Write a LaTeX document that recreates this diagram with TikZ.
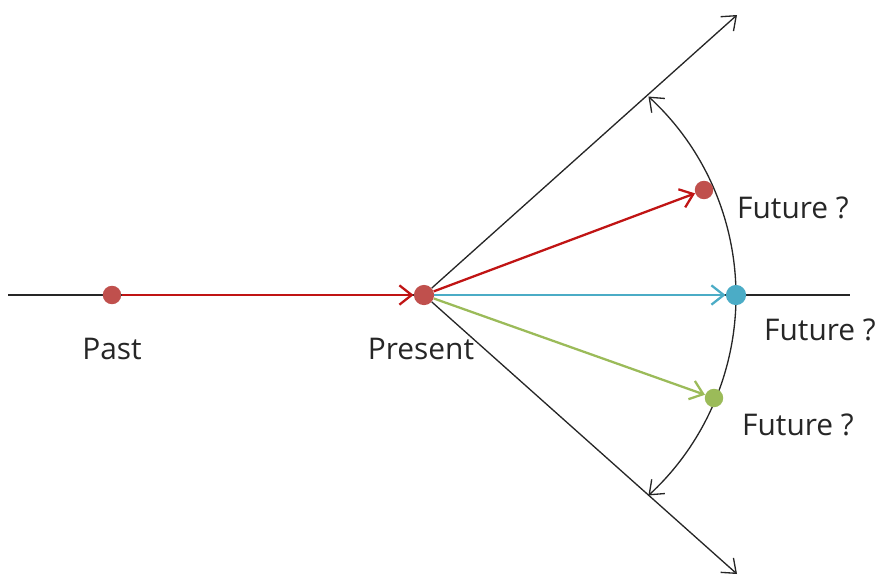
\documentclass[tikz,border=0pt]{standalone}
\usepackage{fontspec}
\setmainfont{Open Sans}
\usetikzlibrary{arrows.meta}

\definecolor{dotred}{RGB}{192,80,77}
\definecolor{linered}{RGB}{192,20,20}
\definecolor{dotblue}{RGB}{75,172,198}
\definecolor{dotgreen}{RGB}{155,187,89}

\tikzset{
  dot/.style={circle, inner sep=0pt, minimum size=#1},
  dot/.default=10.5pt,
  timeline/.style={line width=0.75pt, black!85},
  ray/.style={line width=0.75pt, black!85, -{Straight Barb[length=7pt,width=11pt]}},
  path/.style={line width=1.3pt, -{Straight Barb[length=7pt,width=11pt]}},
  lbl/.style={font=\fontsize{17}{20}\selectfont, text=black!85}
}

\begin{document}
\begin{tikzpicture}[x=0.02cm, y=-0.02cm]
        \useasboundingbox (0,0) rectangle (882,576);
        % \draw[help lines, gray!30] (0,0) grid[step=50] (882,576);

        % main time line
        \draw[timeline] (8,295) -- (850,295);

        \node[dot, fill=dotred] (past) at (112,295) {};
        \node[dot=11.5pt, fill=dotred] (present) at (424,295) {};
        \node[lbl] (pastlbl) at (112,349) {Past};
        \node[lbl] (presentlbl) at (421,349) {Present};

        % cone of futures
        \coordinate (uptip) at (737,15);
        \coordinate (lowtip) at (737,574);
        \draw[ray] (present) -- (uptip);
        \draw[ray] (present) -- (lowtip);
        \draw[timeline, {Straight Barb[length=7pt,width=11pt]}-{Straight Barb[length=7pt,width=11pt]}]
          (465,296) ++(-47.4:271) arc (-47.4:47.4:271);

        \node[dot, fill=dotred] (futa) at (704,190) {};
        \node[dot=11.5pt, fill=dotblue] (futb) at (736,295) {};
        \node[dot, fill=dotgreen] (futc) at (714,398) {};

        \node[lbl] (futalbl) at (793,208) {Future ?};
        \node[lbl] (futblbl) at (820,330) {Future ?};
        \node[lbl] (futclbl) at (798,425) {Future ?};

        % arrows
        \draw[path, linered] (past) -- (present);
        \draw[path, linered] (present) -- (futa);
        \draw[path, dotblue] (present) -- (futb);
        \draw[path, dotgreen] (present) -- (futc);
      \end{tikzpicture}
\end{document}
